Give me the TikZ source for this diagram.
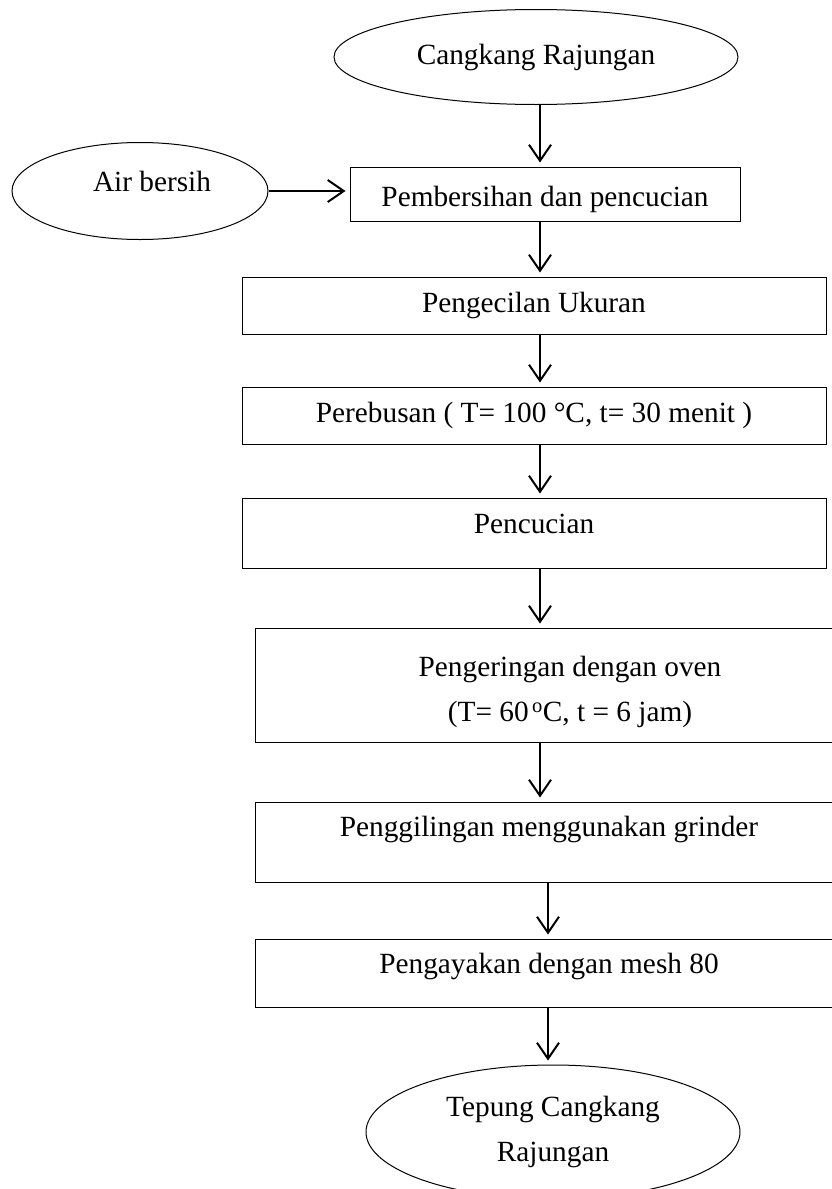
\documentclass[tikz,border=0pt]{standalone}
\usepackage{fontspec}
\setmainfont{Liberation Serif}
\usetikzlibrary{arrows.meta, shapes.geometric}

\begin{document}
\begin{tikzpicture}[x=1pt, y=-1pt,
    font=\fontsize{29.3}{45}\selectfont,
    frame/.style={draw, line width=1pt, rectangle, inner sep=0pt},
    stepbox/.style={frame, text height=20pt, text depth=7pt},
    endbox/.style={draw, line width=1pt, ellipse, inner sep=0pt, align=center},
    flow/.style={line width=2pt, -{Straight Barb[length=16pt, width=22pt]}, shorten >=4pt}]
  \useasboundingbox (0,0) rectangle (831,1189);

  \node[endbox, minimum width=404pt, minimum height=95pt] (src) at (536,57) {Cangkang Rajungan};
  \node[endbox, minimum width=256pt, minimum height=97pt, text height=20pt, text depth=19pt] (air) at (140,191) {\hspace*{24pt}Air bersih};

  \node[stepbox, minimum width=390pt, minimum height=54pt, text height=32pt] (wash) at (545,194) {Pembersihan dan pencucian};
  \node[stepbox, minimum width=584pt, minimum height=57pt] (size)  at (534,305.5) {Pengecilan Ukuran};
  \node[stepbox, minimum width=584pt, minimum height=57pt] (boil)  at (534,415.5) {Perebusan ( T= 100 °C, t= 30 menit )};
  \node[stepbox, minimum width=584pt, minimum height=70pt, text depth=19pt] (rinse) at (534,533) {Pencucian};
  \node[frame, align=center, minimum width=630pt, minimum height=114pt] (dry) at (570,685)
    {\rule{0pt}{34pt}Pengeringan dengan oven\\(T= 60\textsuperscript{\,o}C, t = 6 jam)};
  \node[stepbox, minimum width=588pt, minimum height=80pt, text depth=31pt] (grind) at (549,842) {Penggilingan menggunakan grinder};
  \node[stepbox, minimum width=588pt, minimum height=68pt, text depth=19pt] (sieve) at (549,973) {Pengayakan dengan mesh 80};

  \node[endbox, minimum width=374pt, minimum height=134pt] (out) at (553,1132) {Tepung Cangkang\\Rajungan};

  % arrows
  \coordinate (spineA) at (540,0);
  \coordinate (spineB) at (548,0);
  \draw[flow] (air.east) -- (air.east -| wash.west);
  \draw[flow] (src.south -| spineA)   -- (wash.north -| spineA);
  \draw[flow] (wash.south -| spineA)  -- (size.north -| spineA);
  \draw[flow] (size.south -| spineA)  -- (boil.north -| spineA);
  \draw[flow] (boil.south -| spineA)  -- (rinse.north -| spineA);
  \draw[flow] (rinse.south -| spineA) -- (dry.north -| spineA);
  \draw[flow] (dry.south -| spineA)   -- (grind.north -| spineA);
  \draw[flow] (grind.south -| spineB) -- (sieve.north -| spineB);
  \draw[flow] (sieve.south -| spineB) -- (out.north -| spineB);
\end{tikzpicture}
\end{document}
